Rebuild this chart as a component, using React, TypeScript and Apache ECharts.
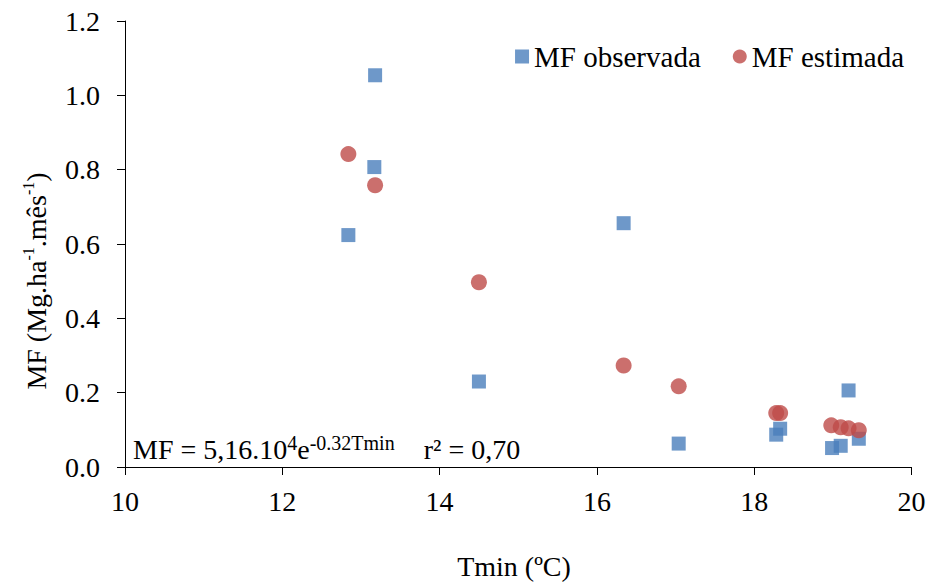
import React, { useEffect, useRef } from "react";
import * as echarts from "echarts";

const obsX = [12.84, 13.18, 13.17, 14.5, 16.34, 17.04, 18.28, 18.33, 18.99, 19.1, 19.2, 19.33];
const obsY = [0.624, 1.054, 0.807, 0.23, 0.656, 0.063, 0.087, 0.103, 0.051, 0.057, 0.206, 0.076];
const estX = [12.84, 13.18, 14.5, 16.34, 17.04, 18.28, 18.33, 18.98, 19.1, 19.2, 19.33];
const estY = [0.842, 0.758, 0.497, 0.273, 0.217, 0.145, 0.145, 0.112, 0.107, 0.104, 0.099];
const seriesNames = ["MF observada", "MF estimada"];
const xTitle = "Tmin (ºC)";

const FONT = "'Liberation Serif', 'Times New Roman', serif";

export default function App() {
  const ref = useRef<HTMLDivElement>(null);
  useEffect(() => {
    if (!ref.current) return;
    const chart = echarts.init(ref.current, undefined, { renderer: "svg" });
    chart.setOption({
      animation: false,
      backgroundColor: "#ffffff",
      textStyle: { fontFamily: FONT },
      grid: { left: 125, right: 17.5, top: 21, bottom: 120, containLabel: false },
      legend: {
        right: 20,
        top: 37,
        itemWidth: 14,
        itemHeight: 14,
        itemGap: 32,
        textStyle: { fontFamily: FONT, fontSize: 29, color: "#000" },
        data: [
          { name: seriesNames[0], icon: "rect" },
          { name: seriesNames[1], icon: "circle" },
        ],
      },
      xAxis: {
        type: "value",
        min: 10,
        max: 20,
        interval: 2,
        axisLine: { lineStyle: { color: "#000", width: 1 } },
        axisTick: { show: true, length: 8, inside: false, lineStyle: { color: "#000" } },
        axisLabel: { fontFamily: FONT, fontSize: 28, color: "#000", margin: 20 },
        splitLine: { show: false },
      },
      yAxis: {
        type: "value",
        min: 0,
        max: 1.2,
        interval: 0.2,
        axisLine: { show: true, lineStyle: { color: "#000", width: 1 } },
        axisTick: { show: true, length: 8, lineStyle: { color: "#000" } },
        axisLabel: {
          fontFamily: FONT,
          fontSize: 28,
          color: "#000",
          margin: 25,
          formatter: (v: number) => v.toFixed(1),
        },
        splitLine: { show: false },
      },
      series: [
        {
          name: seriesNames[0],
          type: "scatter",
          symbol: "rect",
          symbolSize: 14,
          itemStyle: { color: "#4A7EBB" },
          data: obsX.map((x, i) => [x, obsY[i]]),
        },
        {
          name: seriesNames[1],
          type: "scatter",
          symbol: "circle",
          symbolSize: 16,
          itemStyle: { color: "#BE4B48" },
          data: estX.map((x, i) => [x, estY[i]]),
        },
      ],
      graphic: [
        {
          type: "text",
          x: 514,
          y: 566,
          style: {
            text: xTitle,
            align: "center",
            verticalAlign: "middle",
            fontFamily: FONT,
            fontSize: 28,
            fill: "#000",
          },
        },
        {
          type: "text",
          x: 36,
          y: 281,
          rotation: Math.PI / 2,
          style: {
            text: "{n|MF (Mg.ha}{s|-1}{n|.mês}{s|-1}{n|)}",
            align: "center",
            verticalAlign: "middle",
            rich: {
              n: { fontFamily: FONT, fontSize: 28, fill: "#000", lineHeight: 32 },
              s: { fontFamily: FONT, fontSize: 16, fill: "#000", verticalAlign: "top", lineHeight: 32 },
            },
          },
        },
        {
          type: "text",
          x: 133,
          y: 449,
          style: {
            text: "{n|MF = 5,16.10}{s|4}{n|e}{s|-0.32Tmin}{g| }{n|r² = 0,70}",
            align: "left",
            verticalAlign: "middle",
            rich: {
              n: { fontFamily: FONT, fontSize: 28, fill: "#000", lineHeight: 32 },
              s: { fontFamily: FONT, fontSize: 20, fill: "#000", verticalAlign: "top", lineHeight: 32 },
              g: { fontSize: 28, width: 29 },
            },
          },
        },
      ],
    });
    return () => chart.dispose();
  }, []);
  return (
    <div
      ref={ref}
      style={{ position: "absolute", left: 0, top: 0, width: 929, height: 587 }}
    />
  );
}
